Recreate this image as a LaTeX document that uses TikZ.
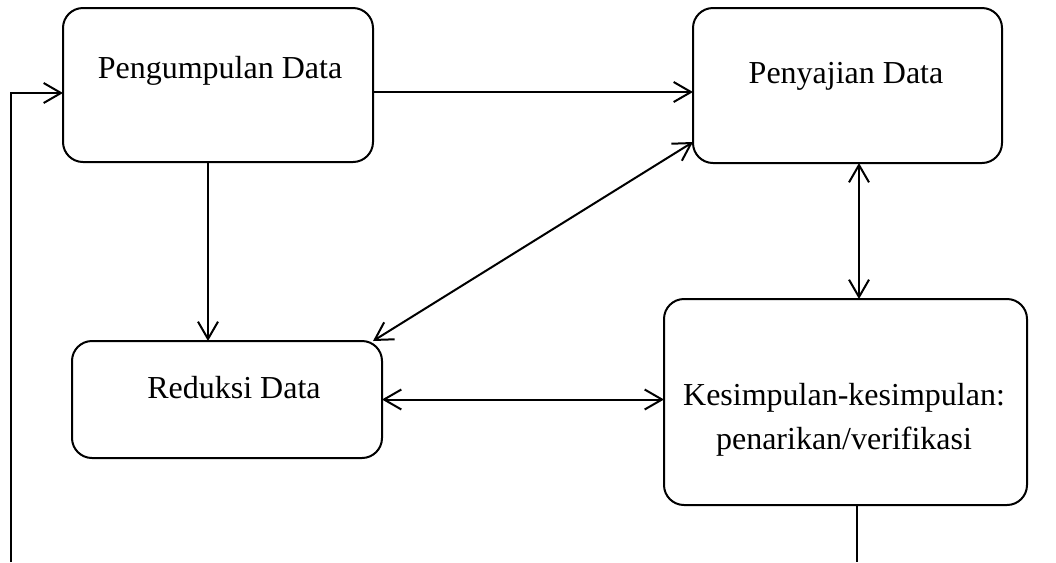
\documentclass[tikz,border=0pt]{standalone}
\usepackage{fontspec}
\setmainfont{Liberation Serif}
\usetikzlibrary{arrows.meta,positioning,calc}

\begin{document}
\begin{tikzpicture}[
        x=0.75pt, y=-0.75pt,
        font=\fontsize{24}{33}\selectfont,
        >={Straight Barb[length=13pt,width=15pt]},
        box/.style={rectangle,draw,line width=1.5pt,rounded corners=15pt,inner sep=0pt,outer sep=0pt},
        label/.style={anchor=base,align=center},
        arrow/.style={->,line width=1.5pt},
        dblarrow/.style={<->,line width=1.5pt}
    ]
        \useasboundingbox (0,0) rectangle (1056,562);
        \node[box,minimum width=232.5pt,minimum height=115.5pt] (kumpul) at (218,85) {};
        \node[box,minimum width=231.75pt,minimum height=116.25pt] (sajian) at (847.5,85.5) {};
        \node[box,minimum width=232.5pt,minimum height=87.75pt] (reduksi) at (227,399.5) {};
        \node[box,minimum width=272.25pt,minimum height=154.5pt] (simpul) at (845.5,402) {};

        \node[label] (kumpultext) at (220,78) {Pengumpulan Data};
        \node[label] (sajiantext) at (846,83) {Penyajian Data};
        \node[label] (reduksitext) at (234,398) {Reduksi Data};
        \node[label] (simpultext) at (844,449) {Kesimpulan-kesimpulan:\\penarikan/verifikasi};

        \coordinate (fbkiri) at (11,562);
        \coordinate (fbkanan) at (857,562);

        \draw[arrow] ($(kumpul.south)+(-10,0)$) coordinate (a) -- (a |- reduksi.north);
        \draw[arrow] ($(kumpul.east)+(0,7)$) coordinate (b) -- (b -| sajian.west);
        \draw[dblarrow] ($(sajian.south west)+(0,-21)$) -- ($(reduksi.north east)+(-9,0)$);
        \draw[dblarrow] ($(sajian.south)+(11.5,0)$) coordinate (c) -- (c |- simpul.north);
        \draw[dblarrow] (reduksi.east) -- (reduksi.east -| simpul.west);
        \draw[arrow] (fbkiri) |- ($(kumpul.west)+(0,8)$);
        \draw[line width=1.5pt] (simpul.south -| fbkanan) -- (fbkanan);
    \end{tikzpicture}
\end{document}
